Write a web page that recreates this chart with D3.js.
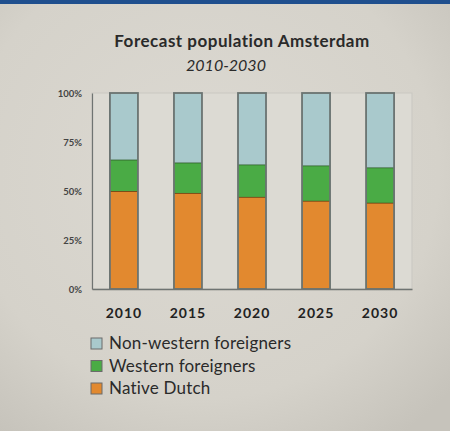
<!DOCTYPE html>
<html><head><meta charset="utf-8">
<script src="https://cdn.jsdelivr.net/npm/d3@7"></script>
<style>html,body{margin:0;padding:0;background:#d5d2ca;}svg{display:block;}</style>
</head><body>
<script>
const years = ["2010","2015","2020","2025","2030"];
const nativeDutch = [50, 49, 47, 45, 44];
const westernForeigners = [16, 15.5, 16.5, 18, 18];
const nonWesternForeigners = [34, 35.5, 36.5, 37, 38];
const yTickValues = [0, 25, 50, 75, 100];
const seriesNames = ["Native Dutch", "Western foreigners", "Non-western foreigners"];
const seriesColors = ["#e2892f", "#4aab45", "#a9c9cc"];
const seriesStroke = ["#5a3a10", "#2d5a25", "#6c8a88"];

const W = 450, H = 431;
const svg = d3.select("body").append("svg").attr("width", W).attr("height", H);
const defs = svg.append("defs");
const rg = defs.append("radialGradient").attr("id","bg").attr("cx","45%").attr("cy","40%").attr("r","75%");
rg.append("stop").attr("offset","0%").attr("stop-color","#dcd9d2");
rg.append("stop").attr("offset","70%").attr("stop-color","#d5d2ca");
rg.append("stop").attr("offset","100%").attr("stop-color","#c6c3bb");
svg.append("rect").attr("width",W).attr("height",H).attr("fill","url(#bg)");
svg.append("rect").attr("width",W).attr("height",4).attr("fill","#1f4f8e");

// title
svg.append("text").attr("x",242).attr("y",47).attr("text-anchor","middle")
  .attr("font-family","Lato, 'Open Sans', sans-serif").attr("font-weight","bold")
  .attr("font-size",17).attr("letter-spacing",0.5).attr("fill","#2a2a2a").text("Forecast population Amsterdam");
svg.append("text").attr("x",226).attr("y",71).attr("text-anchor","middle")
  .attr("font-family","Lato, 'Open Sans', sans-serif").attr("font-style","italic")
  .attr("font-size",16).attr("fill","#2a2a2a").text("2010-2030");

const m = {left:92, right:412, top:93, bottom:289};
const x = d3.scaleBand().domain(years).range([m.left, m.right]).paddingInner(0.5625).paddingOuter(0.28);
const y = d3.scaleLinear().domain([0,100]).range([m.bottom, m.top]);

// plot panel
svg.append("rect").attr("x",m.left).attr("y",m.top).attr("width",m.right-m.left).attr("height",m.bottom-m.top)
  .attr("fill","#dcdad3").attr("stroke","#c9c7c1").attr("stroke-width",1);

const rows = years.map((yr,i)=>({year:yr, "Native Dutch":nativeDutch[i], "Western foreigners":westernForeigners[i], "Non-western foreigners":nonWesternForeigners[i]}));
const stacked = d3.stack().keys(seriesNames)(rows);

stacked.forEach((s,si)=>{
  svg.append("g").selectAll("rect").data(s).join("rect")
    .attr("x",d=>x(d.data.year)).attr("width",x.bandwidth())
    .attr("y",d=>y(d[1])).attr("height",d=>y(d[0])-y(d[1]))
    .attr("fill",seriesColors[si]);
  if (si < 2) {
    svg.append("g").selectAll("line").data(s).join("line")
      .attr("x1",d=>x(d.data.year)).attr("x2",d=>x(d.data.year)+x.bandwidth())
      .attr("y1",d=>y(d[1])).attr("y2",d=>y(d[1]))
      .attr("stroke",seriesStroke[si]).attr("stroke-width",1.5);
  }
});
// bar outlines
svg.append("g").selectAll("rect").data(rows).join("rect")
  .attr("x",d=>x(d.year)).attr("width",x.bandwidth())
  .attr("y",y(100)).attr("height",y(0)-y(100))
  .attr("fill","none").attr("stroke","#6a7371").attr("stroke-width",1.8);

// axes
const yAxis = d3.axisLeft(y).tickValues(yTickValues).tickFormat(d=>d+"%").tickSize(0).tickPadding(10);
const gy = svg.append("g").attr("transform",`translate(${m.left},0)`).call(yAxis);
gy.select(".domain").attr("stroke","#6f7472").attr("stroke-width",1.2);
gy.selectAll("text").attr("font-family","Lato, sans-serif").attr("font-size",9.5).attr("font-weight","bold").attr("fill","#444");

const xAxis = d3.axisBottom(x).tickSize(0).tickPadding(19);
const gx = svg.append("g").attr("transform",`translate(0,${m.bottom})`).call(xAxis);
gx.select(".domain").attr("stroke","#6f7472").attr("stroke-width",1.5);
gx.selectAll("text").attr("font-family","Lato, sans-serif").attr("font-size",14).attr("letter-spacing",1)
  .attr("font-weight","bold").attr("fill","#222");

// legend
const legendOrder = ["Non-western foreigners","Western foreigners","Native Dutch"];
const lg = svg.append("g").selectAll("g").data(legendOrder).join("g")
  .attr("transform",(d,i)=>`translate(91,${343 + i*22.5})`);
lg.append("rect").attr("x",0).attr("y",-5).attr("width",11).attr("height",11)
  .attr("fill",d=>seriesColors[seriesNames.indexOf(d)]).attr("stroke","#6b6b6b").attr("stroke-width",1);
lg.append("text").attr("x",18).attr("y",6).attr("font-family","Lato, sans-serif").attr("font-size",17)
  .attr("letter-spacing",0.2).attr("fill","#2a2a2a").text(d=>d);
</script>
</body></html>
